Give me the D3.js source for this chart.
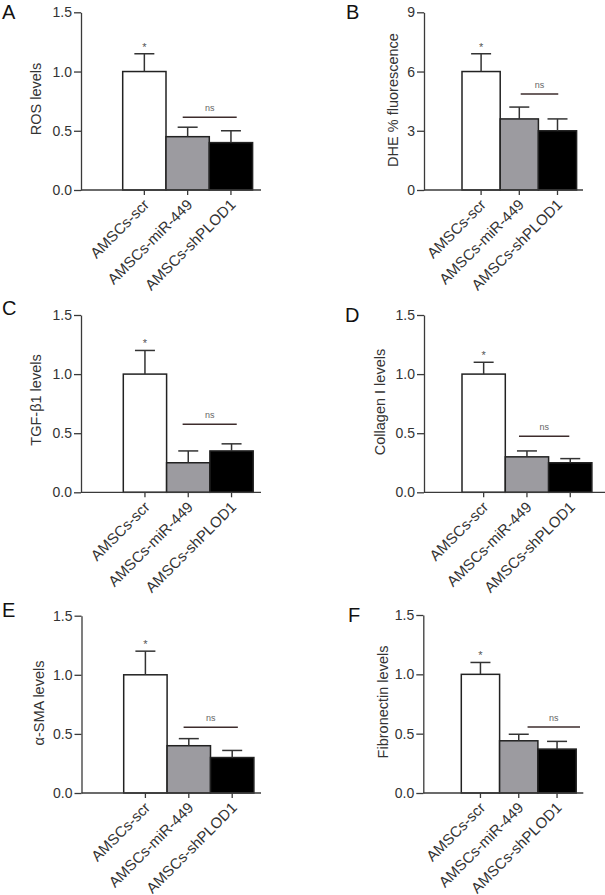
<!DOCTYPE html>
<html><head><meta charset="utf-8">
<script src="https://cdn.jsdelivr.net/npm/d3@7"></script>
<style>
body{margin:0;background:#fff}
svg{display:block}
text{font-family:"Liberation Sans",Arial,Helvetica,sans-serif}
</style>
</head><body>
<svg id="c" width="605" height="895"></svg>
<script>
// ---- data ----
const categories = ["AMSCs-scr", "AMSCs-miR-449", "AMSCs-shPLOD1"];
const rosMeans = [1.0, 0.45, 0.40];
const rosErr   = [0.15, 0.08, 0.10];
const dheMeans = [6.0, 3.6, 3.0];
const dheErr   = [0.9, 0.6, 0.6];
const tgfMeans = [1.0, 0.25, 0.35];
const tgfErr   = [0.2, 0.1, 0.06];
const colMeans = [1.0, 0.30, 0.25];
const colErr   = [0.1, 0.05, 0.035];
const smaMeans = [1.0, 0.40, 0.30];
const smaErr   = [0.2, 0.06, 0.06];
const fnMeans  = [1.0, 0.44, 0.37];
const fnErr    = [0.1, 0.055, 0.065];
const ticksLevels = [0, 0.5, 1.0, 1.5];
const ticksDHE = [0, 3, 6, 9];

// ---- layout / style ----
const barFills = ["#ffffff", "#9c9ba0", "#000000"];
const panels = [
  {letter:"A", title:"ROS levels", means:rosMeans, errs:rosErr, ticks:ticksLevels, max:1.5, fmt:".1f", nsY:0.615, nsSpan:[1.386,2.633],
   L:{axisX:81, y0:190, yTop:12.3, xEnd:261, barX:122.7, bw:43.3, letterX:2, letterY:18.5, titleX:36, titleY:99}},
  {letter:"B", title:"DHE % fluorescence", means:dheMeans, errs:dheErr, ticks:ticksDHE, max:9, fmt:"d", nsY:4.86, nsSpan:[1.537,2.52],
   L:{axisX:424, y0:190, yTop:12.3, xEnd:583, barX:462, bw:38.2, letterX:346, letterY:18.5, titleX:393, titleY:100}},
  {letter:"C", title:"TGF-\u03b21 levels", means:tgfMeans, errs:tgfErr, ticks:ticksLevels, max:1.5, fmt:".1f", nsY:0.575, nsSpan:[1.37,2.62],
   L:{axisX:81, y0:492.3, yTop:315, xEnd:261, barX:123.3, bw:43.3, letterX:2, letterY:315, titleX:36, titleY:400}},
  {letter:"D", title:"Collagen I levels", means:colMeans, errs:colErr, ticks:ticksLevels, max:1.5, fmt:".1f", nsY:0.474, nsSpan:[1.316,2.478],
   L:{axisX:424, y0:492.3, yTop:315, xEnd:605, barX:462, bw:43.3, letterX:345, letterY:322, titleX:380, titleY:402}},
  {letter:"E", title:"\u03b1-SMA levels", means:smaMeans, errs:smaErr, ticks:ticksLevels, max:1.5, fmt:".1f", nsY:0.556, nsSpan:[1.38,2.63],
   L:{axisX:81.5, y0:793, yTop:615.7, xEnd:261, barX:123.7, bw:43.4, letterX:2, letterY:617, titleX:39, titleY:703}},
  {letter:"F", title:"Fibronectin levels", means:fnMeans, errs:fnErr, ticks:ticksLevels, max:1.5, fmt:".1f", nsY:0.557, nsSpan:[1.73,3.10],
   L:{axisX:423.3, y0:793, yTop:615, xEnd:583.3, barX:461.3, bw:38.3, letterX:348, letterY:622, titleX:383, titleY:702}}
];

const svg = d3.select("#c");
const axisColor = "#3a3a3a";

panels.forEach(p => {
  const L = p.L;
  const g = svg.append("g");
  const y = d3.scaleLinear().domain([0, p.max]).range([L.y0, L.yTop]);
  const x = d3.scaleBand().domain(categories).range([L.barX, L.barX + 3 * L.bw]).padding(0);

  // panel letter
  g.append("text").attr("x", L.letterX).attr("y", L.letterY)
    .attr("font-size", 20).attr("fill", "#111").text(p.letter);

  // y axis
  const ya = g.append("g").attr("transform", `translate(${L.axisX},0)`)
    .call(d3.axisLeft(y).tickValues(p.ticks).tickFormat(d3.format(p.fmt)).tickSize(7).tickSizeOuter(0).tickPadding(2));
  ya.selectAll("path,line").attr("stroke", axisColor).attr("stroke-width", 1.3);
  ya.selectAll("text").attr("font-size", 14).attr("fill", "#333").style("font-family", '"Liberation Sans",Arial,sans-serif');

  // y title
  g.append("text").attr("transform", `translate(${L.titleX},${L.titleY}) rotate(-90)`)
    .attr("text-anchor", "middle").attr("dominant-baseline", "central")
    .attr("font-size", 14.5).attr("fill", "#333").text(p.title);

  // bars
  g.selectAll("rect.bar").data(categories).join("rect").attr("class", "bar")
    .attr("x", c => x(c)).attr("width", x.bandwidth())
    .attr("y", (c, i) => y(p.means[i])).attr("height", (c, i) => L.y0 - y(p.means[i]))
    .attr("fill", (c, i) => barFills[i]).attr("stroke", "#222").attr("stroke-width", 1.5);

  // error bars (upper)
  categories.forEach((c, i) => {
    const cx = x(c) + x.bandwidth() / 2;
    const top = y(p.means[i] + p.errs[i]);
    g.append("line").attr("x1", cx).attr("x2", cx).attr("y1", y(p.means[i])).attr("y2", top)
      .attr("stroke", "#333").attr("stroke-width", 1.5);
    g.append("line").attr("x1", cx - 10).attr("x2", cx + 10).attr("y1", top).attr("y2", top)
      .attr("stroke", "#333").attr("stroke-width", 1.5);
    if (i === 0) {
      g.append("text").attr("x", cx).attr("y", top - 3).attr("text-anchor", "middle")
        .attr("font-size", 11).attr("fill", "#555").text("*");
    }
  });

  // x axis
  const xa = g.append("g").attr("transform", `translate(0,${L.y0})`)
    .call(d3.axisBottom(x).tickSize(5).tickSizeOuter(0).tickPadding(4));
  xa.select(".domain").remove();
  xa.selectAll("line").attr("stroke", axisColor).attr("stroke-width", 1.3);
  xa.selectAll("text").attr("font-size", 15).attr("fill", "#333")
    .style("font-family", '"Liberation Sans",Arial,sans-serif')
    .attr("text-anchor", "end").attr("dy", "0.35em")
    .attr("transform", "translate(2,12) rotate(-45)").attr("y", 0).attr("x", 0);
  g.append("line").attr("x1", L.axisX).attr("x2", L.xEnd).attr("y1", L.y0).attr("y2", L.y0)
    .attr("stroke", axisColor).attr("stroke-width", 1.3);

  // ns bracket
  const nx1 = L.barX + p.nsSpan[0] * L.bw, nx2 = L.barX + p.nsSpan[1] * L.bw;
  g.append("line").attr("x1", nx1).attr("x2", nx2).attr("y1", y(p.nsY)).attr("y2", y(p.nsY))
    .attr("stroke", "#3d2c2c").attr("stroke-width", 1.5);
  g.append("text").attr("x", (nx1 + nx2) / 2).attr("y", y(p.nsY) - 6).attr("text-anchor", "middle")
    .attr("font-size", 9).attr("fill", "#666").text("ns");
});
</script>
</body></html>
